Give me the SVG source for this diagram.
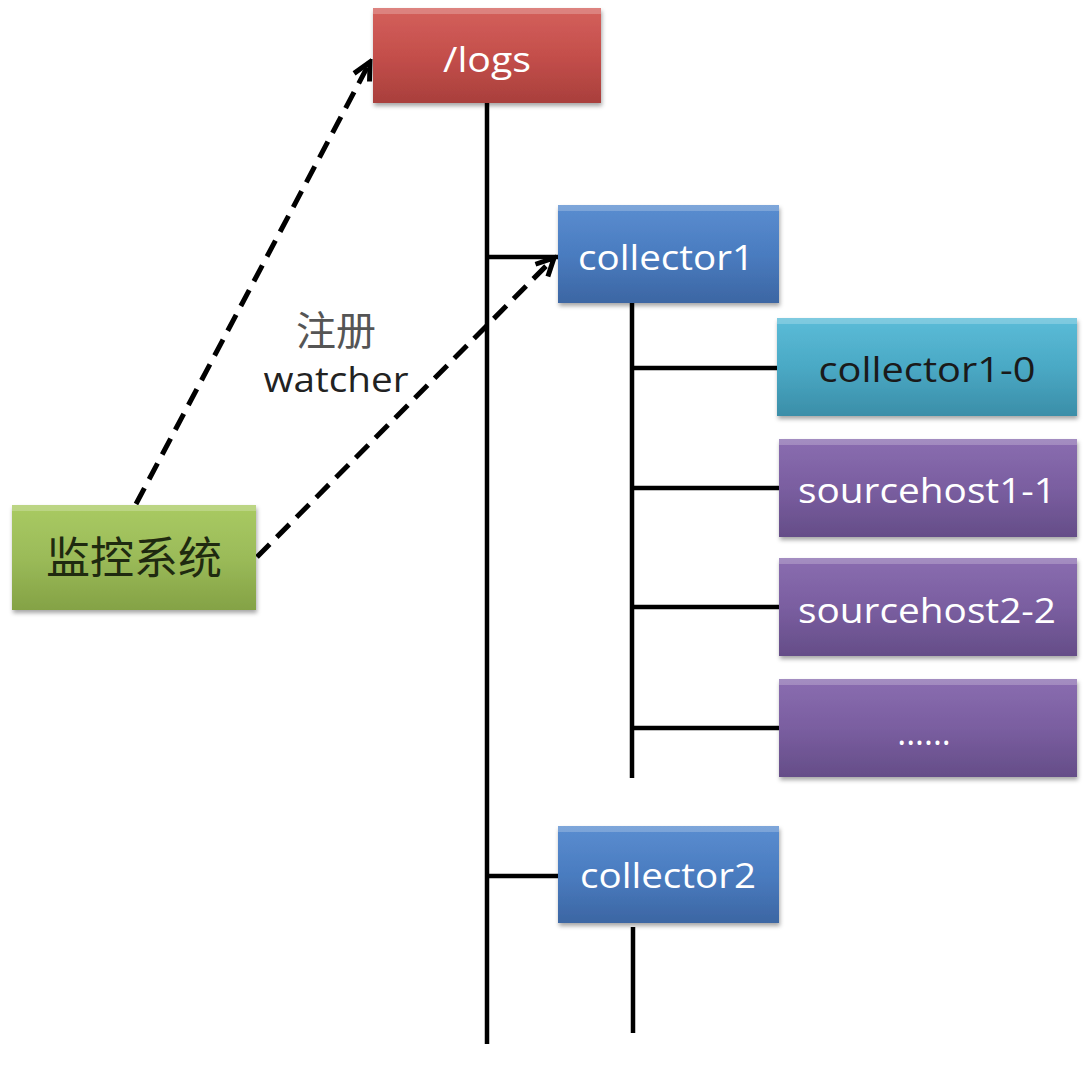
<svg xmlns="http://www.w3.org/2000/svg" width="1088" height="1084" viewBox="0 0 1088 1084">
<defs>
<linearGradient id="gRed" x1="0" y1="0" x2="0" y2="1"><stop offset="0" stop-color="#d4605c"/><stop offset="0.5" stop-color="#c44f4b"/><stop offset="1" stop-color="#a93f3c"/></linearGradient>
<linearGradient id="gBlue" x1="0" y1="0" x2="0" y2="1"><stop offset="0" stop-color="#5a8dd0"/><stop offset="0.5" stop-color="#4a7cc0"/><stop offset="1" stop-color="#3c66a3"/></linearGradient>
<linearGradient id="gCyan" x1="0" y1="0" x2="0" y2="1"><stop offset="0" stop-color="#5bbcd8"/><stop offset="0.5" stop-color="#4aa9c5"/><stop offset="1" stop-color="#3b8ea8"/></linearGradient>
<linearGradient id="gPurple" x1="0" y1="0" x2="0" y2="1"><stop offset="0" stop-color="#8a6db0"/><stop offset="0.5" stop-color="#7a5ea0"/><stop offset="1" stop-color="#654d88"/></linearGradient>
<linearGradient id="gGreen" x1="0" y1="0" x2="0" y2="1"><stop offset="0" stop-color="#a9ca62"/><stop offset="0.5" stop-color="#9bbb59"/><stop offset="1" stop-color="#84a245"/></linearGradient>
<filter id="sh" x="-10%" y="-10%" width="120%" height="130%"><feDropShadow dx="1" dy="3" stdDeviation="2" flood-color="#000" flood-opacity="0.35"/></filter>
<marker id="arr" viewBox="0 0 20 20" refX="17" refY="10" markerWidth="5" markerHeight="5" orient="auto" markerUnits="strokeWidth"><path d="M3,3 L17,10 L3,17" fill="none" stroke="#000" stroke-width="4" stroke-linejoin="miter"/></marker>
<style>
.box{filter:url(#sh);}
.hl{fill:#ffffff;opacity:0.22;}
.t{font-family:"Open Sans","Noto Sans","Noto Sans CJK SC",sans-serif;font-size:34px;text-anchor:middle;}
.cjk{font-family:"Noto Sans CJK SC",sans-serif;}
.w{fill:#ffffff;}
.d{fill:#1a1a1a;}
.ln{stroke:#000;stroke-width:4.5;fill:none;}
.dash{stroke:#000;stroke-width:5;fill:none;stroke-dasharray:18 10;}
</style>
</defs>
<rect width="1088" height="1084" fill="#ffffff"/>
<g id="connectors">
<line class="ln" x1="487" y1="103" x2="487" y2="1044"/>
<line class="ln" x1="487" y1="257" x2="558" y2="257"/>
<line class="ln" x1="487" y1="876" x2="558" y2="876"/>
<line class="ln" x1="632" y1="303" x2="632" y2="778"/>
<line class="ln" x1="632" y1="368" x2="777" y2="368"/>
<line class="ln" x1="632" y1="488" x2="779" y2="488"/>
<line class="ln" x1="632" y1="607" x2="779" y2="607"/>
<line class="ln" x1="632" y1="728" x2="779" y2="728"/>
<line class="ln" x1="633" y1="927" x2="633" y2="1033"/>
<line class="dash" x1="136" y1="504" x2="370" y2="62" marker-end="url(#arr)"/>
<line class="dash" x1="257" y1="557" x2="554" y2="258" marker-end="url(#arr)"/>
</g>
<g id="label-watcher">
<text class="t cjk" x="336" y="345" style="font-size:40px" fill="#555555">注册</text>
<text class="t" x="336" y="392" fill="#222222" textLength="145" lengthAdjust="spacingAndGlyphs">watcher</text>
</g>
<g id="node-logs">
<rect class="box" x="373" y="8" width="228" height="95" fill="url(#gRed)"/>
<rect class="hl" x="373" y="8" width="228" height="6"/>
<text class="t w" x="487" y="72" textLength="88" lengthAdjust="spacingAndGlyphs">/logs</text>
</g>
<g id="node-collector1">
<rect class="box" x="558" y="205" width="221" height="98" fill="url(#gBlue)"/>
<rect class="hl" x="558" y="205" width="221" height="6"/>
<text class="t w" x="666" y="270" textLength="176" lengthAdjust="spacingAndGlyphs">collector1</text>
</g>
<g id="node-collector1-0">
<rect class="box" x="777" y="318" width="300" height="98" fill="url(#gCyan)"/>
<rect class="hl" x="777" y="318" width="300" height="6"/>
<text class="t d" x="927" y="382" textLength="217" lengthAdjust="spacingAndGlyphs">collector1-0</text>
</g>
<g id="node-sourcehost1-1">
<rect class="box" x="779" y="439" width="298" height="98" fill="url(#gPurple)"/>
<rect class="hl" x="779" y="439" width="298" height="6"/>
<text class="t w" x="927" y="503" textLength="258" lengthAdjust="spacingAndGlyphs">sourcehost1-1</text>
</g>
<g id="node-sourcehost2-2">
<rect class="box" x="779" y="558" width="298" height="98" fill="url(#gPurple)"/>
<rect class="hl" x="779" y="558" width="298" height="6"/>
<text class="t w" x="927" y="623" textLength="258" lengthAdjust="spacingAndGlyphs">sourcehost2-2</text>
</g>
<g id="node-more">
<rect class="box" x="779" y="679" width="298" height="98" fill="url(#gPurple)"/>
<rect class="hl" x="779" y="679" width="298" height="6"/>
<text class="t w" x="924" y="745">......</text>
</g>
<g id="node-collector2">
<rect class="box" x="558" y="826" width="221" height="97" fill="url(#gBlue)"/>
<rect class="hl" x="558" y="826" width="221" height="6"/>
<text class="t w" x="668" y="888" textLength="176" lengthAdjust="spacingAndGlyphs">collector2</text>
</g>
<g id="node-monitor">
<rect class="box" x="12" y="505" width="244" height="105" fill="url(#gGreen)"/>
<rect class="hl" x="12" y="505" width="244" height="6"/>
<text class="t cjk" x="134" y="574" style="font-size:44px" fill="#1f2a10">监控系统</text>
</g>
</svg>
